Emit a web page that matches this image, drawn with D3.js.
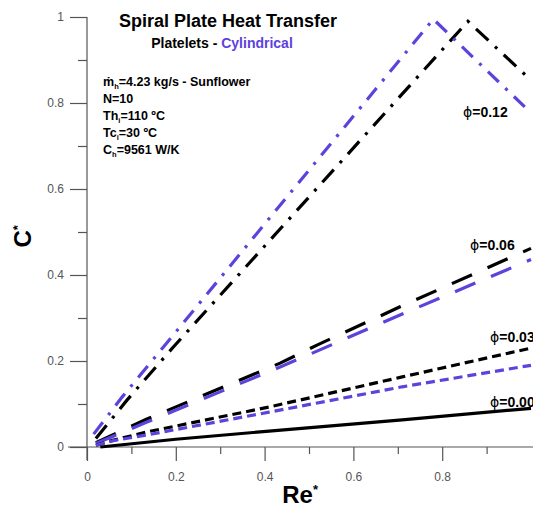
<!DOCTYPE html>
<html><head><meta charset="utf-8">
<script src="https://cdn.jsdelivr.net/npm/d3@7"></script>
<style>
body{margin:0;background:#fff;}
svg{display:block;font-family:"Liberation Sans",Arial,sans-serif;}
</style></head>
<body><svg id="c" width="533" height="509"></svg>
<script>
// Data (Re*, C*)
const cyl012 = [[0.015,0.03],[0.079,0.116],[0.182,0.245],[0.78,0.995],[1.0,0.777]];
const pla012 = [[0.02,0.02],[0.09,0.109],[0.194,0.232],[0.858,0.99],[1.0,0.853]];
const cyl006 = [[0.02,0.008],[0.135,0.058],[0.435,0.186],[0.518,0.223],[0.705,0.307],[1.0,0.436]];
const pla006 = [[0.02,0.01],[0.135,0.065],[0.435,0.195],[0.518,0.237],[0.705,0.326],[1.0,0.462]];
const cyl003 = [[0.02,0.004],[0.06,0.015],[0.135,0.028],[0.41,0.081],[0.71,0.14],[1.0,0.19]];
const pla003 = [[0.02,0.004],[0.06,0.016],[0.135,0.035],[0.41,0.093],[0.71,0.163],[1.0,0.23]];
const pla000 = [[0.03,0.0],[0.2,0.018],[0.41,0.037],[0.71,0.063],[1.0,0.09]];
const xTicks = [0,0.2,0.4,0.6,0.8];
const xMinor = [0.1,0.3,0.5,0.7,0.9];
const yTicks = [0,0.2,0.4,0.6,0.8,1];
const yMinor = [0.1,0.3,0.5,0.7,0.9];
const phiLabels = ["=0.12","=0.06","=0.03","=0.00"];

const PURPLE = "#5d42dc";
const svg = d3.select("#c");
const x = d3.scaleLinear().domain([0,1]).range([87,531]);
const y = d3.scaleLinear().domain([0,1]).range([447,17]);
const axisCol = "#555";

// axes lines extended
svg.append("line").attr("x1",x(0)).attr("x2",x(0)).attr("y1",y(1)).attr("y2",y(0)+13).attr("stroke",axisCol).attr("stroke-width",1.2);
svg.append("line").attr("x1",x(0)-19).attr("x2",533).attr("y1",y(0)).attr("y2",y(0)).attr("stroke",axisCol).attr("stroke-width",1.2);

const styleAxis = g => { g.select(".domain").remove(); g.selectAll("line").attr("stroke",axisCol).attr("stroke-width",1.2);
  g.selectAll("text").attr("fill","#555").style("font-size","12px").style("font-family","Liberation Sans, Arial, sans-serif"); };

svg.append("g").attr("transform",`translate(${x(0)},0)`)
  .call(d3.axisLeft(y).tickValues(yTicks).tickSize(17).tickPadding(6).tickFormat(d=>d===0?"0":d===1?"1":d3.format(".1f")(d))).call(styleAxis);
svg.append("g").attr("transform",`translate(${x(0)},0)`)
  .call(d3.axisLeft(y).tickValues(yMinor).tickSize(9).tickFormat("")).call(styleAxis);
svg.append("g").attr("transform",`translate(0,${y(0)})`)
  .call(d3.axisBottom(x).tickValues(xTicks).tickSize(14).tickPadding(11).tickFormat(d=>d===0?"0":d3.format(".1f")(d))).call(styleAxis);
svg.append("g").attr("transform",`translate(0,${y(0)})`)
  .call(d3.axisBottom(x).tickValues(xMinor).tickSize(7).tickFormat("")).call(styleAxis);

// axis titles
const at = svg.append("text").attr("transform",`translate(31,${y(0.49)}) rotate(-90)`).attr("text-anchor","middle")
  .style("font-size","24px").style("font-weight","bold");
at.append("tspan").text("C");
at.append("tspan").attr("dy",-9).style("font-size","13px").text("*");
const xt = svg.append("text").attr("x",x(0.48)).attr("y",503).attr("text-anchor","middle").style("font-size","24px").style("font-weight","bold");
xt.append("tspan").text("Re");
xt.append("tspan").attr("dy",-9).style("font-size","13px").text("*");

// lines
svg.append("defs").append("clipPath").attr("id","clip").append("rect").attr("x",x(0)).attr("y",0).attr("width",533-x(0)).attr("height",y(0)+2);
const gL = svg.append("g").attr("clip-path","url(#clip)");
const line = d3.line().x(d=>x(d[0])).y(d=>y(d[1]));
const draw = (data,col,dash) => gL.append("path").datum(data).attr("d",line).attr("fill","none")
  .attr("stroke",col).attr("stroke-width",3.2).attr("stroke-dasharray",dash).attr("stroke-linecap","butt");
draw(pla012,"#000","17,9,3,9");
draw(cyl012,PURPLE,"15,9,3,9");
draw(pla006,"#000","22,17");
draw(cyl006,PURPLE,"22,17");
draw(pla003,"#000","9,5");
draw(cyl003,PURPLE,"9,5");
draw(pla000,"#000",null);

// phi labels
const lblPos = [[463,117],[470,250],[490,342],[490,407]];
phiLabels.forEach((l,i)=>{
  const t = svg.append("text").attr("x",lblPos[i][0]).attr("y",lblPos[i][1]).style("font-size","14px").style("font-weight","bold");
  t.append("tspan").style("font-weight","normal").style("font-family","DejaVu Sans").text("ϕ");
  t.append("tspan").text(l);
});

// title
svg.append("text").attr("x",228).attr("y",27).attr("text-anchor","middle").style("font-size","18px").style("font-weight","bold").text("Spiral Plate Heat Transfer");
const st = svg.append("text").attr("x",222).attr("y",48).attr("text-anchor","middle").style("font-size","14px").style("font-weight","bold");
st.append("tspan").text("Platelets - ");
st.append("tspan").attr("fill",PURPLE).text("Cylindrical");

// annotation
const ann = svg.append("g").style("font-size","12.5px").style("font-weight","bold");
const rows = [["ṁ","h","=4.23 kg/s - Sunflower"],["N=10","",""],["Th","i","=110 ºC"],["Tc","i","=30 ºC"],["C","h","=9561 W/K"]];
rows.forEach((r,i)=>{
  const t = ann.append("text").attr("x",103).attr("y",86+i*17);
  t.append("tspan").text(r[0]);
  if(r[1]){ t.append("tspan").attr("dy",3).style("font-size","7.5px").text(r[1]); t.append("tspan").attr("dy",-3).text(r[2]); }
});
</script></body></html>
